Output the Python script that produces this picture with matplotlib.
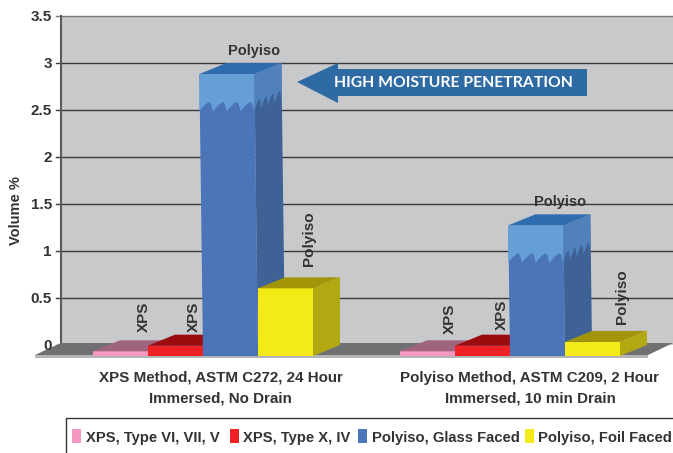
"""
Volume % water absorption, pseudo-3D bars drawn on a single full-figure axes.
"""

import numpy as np
import matplotlib
matplotlib.use("Agg")
import matplotlib.pyplot as plt
from matplotlib.patches import Polygon, PathPatch, Rectangle
from matplotlib.path import Path

plt.rcParams["font.family"] = ["Liberation Sans", "DejaVu Sans"]

W, H = 673, 453
PX_PER_UNIT = 94.0
FRONT_ZERO = 356.0   # pixel row of value 0 on the front plane
DX, DY = 27.0, 11.0 / PX_PER_UNIT  # depth of the bars
BAR_W = 55.0

# data
groups = ["XPS Method, ASTM C272, 24 Hour\nImmersed, No Drain",
          "Polyiso Method, ASTM C209, 2 Hour\nImmersed, 10 min Drain"]
series = ["XPS, Type VI, VII, V", "XPS, Type X, IV",
          "Polyiso, Glass Faced", "Polyiso, Foil Faced"]
bar_labels = ["XPS", "XPS", "Polyiso", "Polyiso"]
xps_vi = [0.05, 0.05]
xps_x = [0.11, 0.11]
polyiso_glass = [3.0, 1.39]
polyiso_foil = [0.72, 0.15]
y_ticks = [0, 0.5, 1, 1.5, 2, 2.5, 3, 3.5]
y_tick_labels = ["0", "0.5", "1", "1.5", "2", "2.5", "3", "3.5"]

group_left = [93.0, 400.0]
group_mid = [220.5, 530.0]
front_colors = ["#f49ac2", "#ee2224", "#4b74b9", "#f3ea17"]
top_colors = ["#a1647f", "#9c0b0e", "#2f6cad", "#a29508"]
side_colors = ["#a1647f", "#9c0b0e", "#3e6295", "#b2a812"]
TXT = "#333333"

# label placement, per group then per bar
label_dx = [[50.5, 45.5, 0, 51], [49.5, 46.5, 0, 57]]
label_gap = [[8, 3, 0, 11], [6, 5, 0, 7]]
top_label_x = [254, 560]

fig = plt.figure(figsize=(W / 100, H / 100), dpi=100, facecolor="white")
ax = fig.add_axes([0, 0, 1, 1])
ax.set_xlim(0, W)
ax.set_ylim((FRONT_ZERO - H) / PX_PER_UNIT, FRONT_ZERO / PX_PER_UNIT)
ax.axis("off")


def py(px):
    # pixel row to the value scale
    return (FRONT_ZERO - px) / PX_PER_UNIT


# wall and floor
ax.add_patch(Rectangle((61, DY), W - 61, 3.5, fc="#c8c9cb", ec="none", zorder=1))
for v in y_ticks[1:]:
    ax.plot([56, W], [v + DY, v + DY], color="#3a3a3a" if v < 3.5 else "#7a7a7a", lw=1.0, zorder=2)
ax.plot([56, 61], [DY, DY], color="#3a3a3a", lw=1.0, zorder=2)
ax.plot([61, 61], [DY, 3.5 + DY], color="#58595b", lw=1.5, zorder=2)
for v, lab in zip(y_ticks, y_tick_labels):
    ax.text(52, v + DY - 1 / PX_PER_UNIT, lab, ha="right", va="center", fontsize=11, fontweight="bold",
            color=TXT, zorder=8)
ax.text(16, py(211), "Volume %", rotation=90, ha="center", va="center",
        fontsize=10.5, fontweight="bold", color=TXT)

ax.add_patch(Polygon([(35, py(355)), (61, py(343)), (W, py(343)), (648, py(355))],
                     fc="#6f7072", ec="none", zorder=3))
ax.add_patch(Polygon([(35, py(354.5)), (648, py(354.5)), (648, py(357.5)), (35, py(357.5))],
                     fc="#b4b5b7", ec="none", zorder=3))


def draw_bar(x0, v, i, skew=0.0):
    # skew: small lean to the left at the top, as in the tall bars
    f, t, s = front_colors[i], top_colors[i], side_colors[i]
    xt = x0 - skew
    ax.add_patch(Polygon([(x0, 0), (x0 + BAR_W, 0), (xt + BAR_W, v), (xt, v)], fc=f, ec="none", zorder=4 + i * 0.1))
    ax.add_patch(Polygon([(xt, v), (xt + BAR_W, v), (xt + BAR_W + DX, v + DY), (xt + DX, v + DY)],
                         fc=t, ec="none", zorder=4 + i * 0.1))
    ax.add_patch(Polygon([(x0 + BAR_W, 0), (x0 + BAR_W + DX, DY), (xt + BAR_W + DX, v + DY), (xt + BAR_W, v)],
                         fc=s, ec="none", zorder=4 + i * 0.1))


def wave_patch(xa, ya, xb, yb, top_a, top_b, amp, color):
    # light band above a scalloped edge, running from b back to a
    n = 4
    verts = [top_a, top_b, (xb, yb)]
    codes = [Path.MOVETO, Path.LINETO, Path.LINETO]

    def pt(u, h):
        return (xa + (xb - xa) * u, ya + (yb - ya) * u + amp * h)

    for k in range(n):
        ur = 1 - k / n
        w = 1 / n
        # hook from the trough up to a sharp crest
        verts += [pt(ur - 0.12 * w, 0.45), pt(ur - 0.08 * w, 0.85), pt(ur - 0.28 * w, 1.0)]
        codes += [Path.CURVE4] * 3
        # back of the wave down to the next trough
        verts += [pt(ur - 0.55 * w, 0.85), pt(ur - 0.85 * w, 0.35), pt(ur - w, 0.0)]
        codes += [Path.CURVE4] * 3
    verts.append(top_a)
    codes.append(Path.LINETO)
    ax.add_patch(PathPatch(Path(verts, codes), fc=color, ec="none", zorder=4.25))


def draw_wave(x0, v, skew):
    xt = x0 - skew
    base = v - 37.5 / PX_PER_UNIT
    amp = 9.5 / PX_PER_UNIT
    wave_patch(xt, base, xt + BAR_W, base, (xt, v), (xt + BAR_W, v), amp, "#659fd6")
    wave_patch(xt + BAR_W, base, xt + BAR_W + DX, base + DY, (xt + BAR_W, v), (xt + BAR_W + DX, v + DY),
               amp * 1.1, "#5081bd")


values = [xps_vi, xps_x, polyiso_glass, polyiso_foil]
for g in range(len(groups)):
    for i, vals in enumerate(values):
        x0 = group_left[g] + i * BAR_W
        skew = 1.2 * vals[g] if i == 2 else 0.0
        draw_bar(x0, vals[g], i, skew)
        if i == 2:
            draw_wave(x0, vals[g], skew)

# labels over the bars
for g in range(len(groups)):
    for i, vals in enumerate(values):
        x0 = group_left[g] + i * BAR_W
        top = vals[g] + DY
        if i == 2:
            ax.text(top_label_x[g], top + 12 / PX_PER_UNIT, bar_labels[i], ha="center", va="center",
                    fontsize=10.5, fontweight="bold", color=TXT, zorder=8)
        else:
            ax.text(x0 + label_dx[g][i], top + label_gap[g][i] / PX_PER_UNIT, bar_labels[i], rotation=90,
                    ha="center", va="bottom", fontsize=11, fontweight="bold", color=TXT, zorder=8)

# category labels
for g in range(len(groups)):
    ax.text(group_mid[g], py(388), groups[g], ha="center", va="center", fontsize=10.9, fontweight="bold",
            color=TXT, linespacing=1.6)

# arrow callout
ax.add_patch(Polygon([(297, py(82)), (338, py(63)), (338, py(69)), (587, py(69)), (587, py(96)),
                      (338, py(96)), (338, py(103))], fc="#2e6aa3", ec="none", zorder=5))
ax.text(453, py(83), "HIGH MOISTURE PENETRATION", color="white", ha="center", va="center",
        fontsize=11.3, fontweight="bold", family=["Lato", "DejaVu Sans"], zorder=6)

# legend box
ax.plot([66, 66, W], [py(H), py(418), py(418)], color="#333333", lw=1.0, zorder=6)
leg_sw = [72, 230, 358, 525]
leg_tx = [86, 243, 372, 538]
for sw, tx, lab, col in zip(leg_sw, leg_tx, series, front_colors):
    ax.add_patch(Rectangle((sw, py(443)), 9, 14 / PX_PER_UNIT, fc=col, ec="none", zorder=6))
    ax.text(tx, py(438), lab, ha="left", va="center", fontsize=10.6, fontweight="bold", color=TXT, zorder=6)

fig.savefig("out.png", dpi=100)
